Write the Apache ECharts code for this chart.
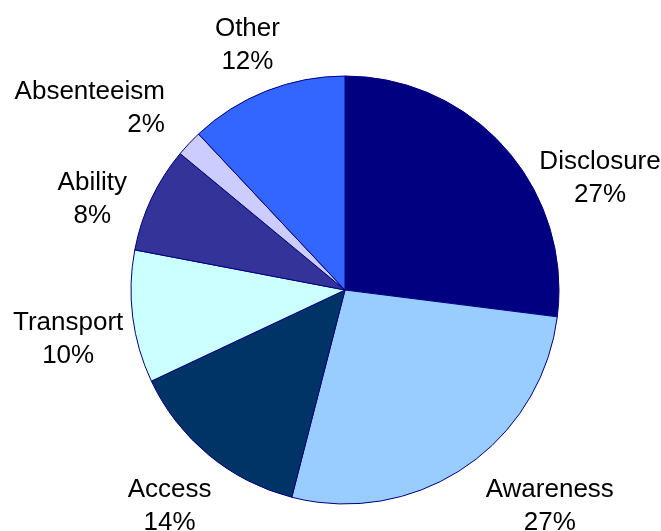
<!DOCTYPE html>
<html><head><meta charset="utf-8">
<script src="https://cdn.jsdelivr.net/npm/echarts@6/dist/echarts.min.js"></script>
<style>html,body{margin:0;padding:0;background:#fff}#c{width:661px;height:531px}</style>
</head><body><div id="c"></div>
<script>
const categories = ['Disclosure','Awareness','Access','Transport','Ability','Absenteeism','Other'];
const values = [27,27,14,10,8,2,12];
const colors = ['#000080','#99CCFF','#003366','#CCFFFF','#333399','#CCCCFF','#3366FF'];

// label placement tweaks (pixel nudges from the automatic outside position, and text alignment)
const labelNudge = [[31,68],[35,-8],[3,8],[14,15],[-6,25],[-27,4],[2,7]];
const labelAlign = ['center','center','center','center','center','right','center'];

const chart = echarts.init(document.getElementById('c'), null, {renderer:'canvas'});
chart.setOption({
  animation:false,
  series:[{
    type:'pie',
    center:[345,290],
    radius:214,
    startAngle:90,
    clockwise:true,
    avoidLabelOverlap:false,
    data: categories.map((n,i)=>({name:n, value:values[i], itemStyle:{color:colors[i]}})),
    itemStyle:{borderColor:'#000080', borderWidth:1},
    label:{show:true, position:'outside', formatter:'{b}\n{d}%', fontFamily:'Liberation Sans, Arial', fontSize:26, lineHeight:33, color:'#000', align:'center'},
    labelLine:{show:true, length:24, length2:0, lineStyle:{opacity:0}},
    labelLayout: function(p){
      const pts = p.labelLinePoints;
      if(!pts) return {};
      const dx = pts[1][0]-pts[0][0], dy = pts[1][1]-pts[0][1];
      const L = Math.hypot(dx,dy)||1;
      const ux=dx/L, uy=dy/L;
      const w=p.labelRect.width, h=p.labelRect.height;
      const n = labelNudge[p.dataIndex], a = labelAlign[p.dataIndex];
      let x = pts[1][0]+ux*w/2 + n[0];
      const y = pts[1][1]+uy*h/2 + n[1];
      if(a==='right') x += w/2; else if(a==='left') x -= w/2;
      return {x:x, y:y, align:a, verticalAlign:'middle'};
    },
    emphasis:{disabled:true}
  }]
});
</script></body></html>
